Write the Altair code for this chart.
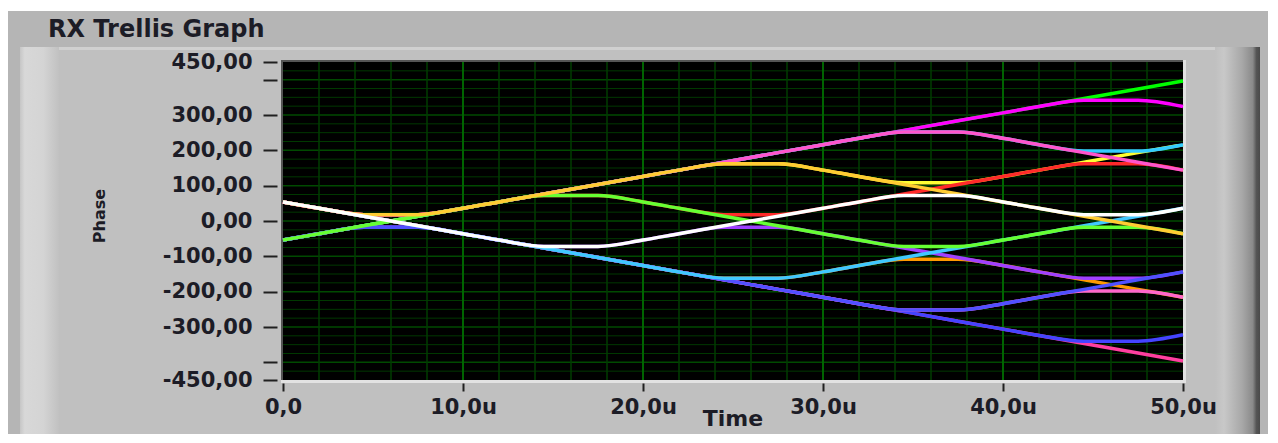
import altair as alt
import pandas as pd

# ---------------- data ----------------
TIME_US = [0, 2, 4.5, 7.5, 10, 12, 14.5, 17.5, 20, 22, 24.5, 27.5,
           30, 32, 34.5, 37.5, 40, 42, 44.5, 47.5, 50]

TRACE_NAMES = ["a01", "a02", "a03", "a04", "a05", "a06", "a07", "a08",
               "a09", "a10", "a11", "a12", "a13", "a14", "a15", "a16"]

PHASE_A01 = [54, 36, 13.5, -13.5, -36, -54, -76.5, -103.5, -126, -144, -166.5, -193.5, -216, -234, -256.5, -283.5, -306, -324, -346.5, -373.5, -396]
PHASE_A02 = [-54, -36, -13.5, 13.5, 36, 54, 76.5, 103.5, 126, 144, 166.5, 193.5, 216, 234, 256.5, 283.5, 306, 324, 346.5, 373.5, 396]
PHASE_A03 = [-54, -36, -18, -18, -36, -54, -76.5, -103.5, -126, -144, -166.5, -193.5, -216, -234, -256.5, -283.5, -306, -324, -340, -340, -322]
PHASE_A04 = [54, 36, 18, 18, 36, 54, 76.5, 103.5, 126, 144, 166.5, 193.5, 216, 234, 256.5, 283.5, 306, 324, 342, 342, 324]
PHASE_A05 = [54, 36, 13.5, -13.5, -36, -54, -76.5, -103.5, -126, -144, -162, -162, -144, -126, -108, -108, -126, -144, -166.5, -193.5, -216]
PHASE_A06 = [-54, -36, -13.5, 13.5, 36, 54, 76.5, 103.5, 126, 144, 162, 162, 144, 126, 108, 108, 126, 144, 166.5, 193.5, 216]
PHASE_A07 = [-54, -36, -18, -18, -36, -54, -72, -72, -54, -36, -18, -18, -36, -54, -76.5, -103.5, -126, -144, -162, -162, -144]
PHASE_A08 = [54, 36, 18, 18, 36, 54, 72, 72, 54, 36, 18, 18, 36, 54, 76.5, 103.5, 126, 144, 162, 162, 144]
PHASE_A09 = [54, 36, 13.5, -13.5, -36, -54, -76.5, -103.5, -126, -144, -166.5, -193.5, -216, -234, -252, -252, -234, -216, -198, -198, -216]
PHASE_A10 = [-54, -36, -13.5, 13.5, 36, 54, 76.5, 103.5, 126, 144, 166.5, 193.5, 216, 234, 252, 252, 234, 216, 198, 198, 216]
PHASE_A11 = [-54, -36, -18, -18, -36, -54, -76.5, -103.5, -126, -144, -166.5, -193.5, -216, -234, -252, -252, -234, -216, -193.5, -166.5, -144]
PHASE_A12 = [54, 36, 18, 18, 36, 54, 76.5, 103.5, 126, 144, 166.5, 193.5, 216, 234, 252, 252, 234, 216, 193.5, 166.5, 144]
PHASE_A13 = [54, 36, 13.5, -13.5, -36, -54, -76.5, -103.5, -126, -144, -162, -162, -144, -126, -103.5, -76.5, -54, -36, -13.5, 13.5, 36]
PHASE_A14 = [-54, -36, -13.5, 13.5, 36, 54, 72, 72, 54, 36, 13.5, -13.5, -36, -54, -72, -72, -54, -36, -18, -18, -36]
PHASE_A15 = [54, 36, 18, 18, 36, 54, 76.5, 103.5, 126, 144, 162, 162, 144, 126, 103.5, 76.5, 54, 36, 13.5, -13.5, -36]
PHASE_A16 = [54, 36, 13.5, -13.5, -36, -54, -72, -72, -54, -36, -13.5, 13.5, 36, 54, 72, 72, 54, 36, 18, 18, 36]

TRACE_COLORS = ["#ff3fa0", "#00ff00", "#4444ff", "#ff00ff", "#ff9900", "#ffff33",
                "#a040ff", "#ff2a2a", "#ff66cc", "#33ccff", "#5050ff", "#ff55cc",
                "#40c8ff", "#66ff33", "#ffcc33", "#ffffff"]

X_TICKS = [0, 10, 20, 30, 40, 50]
Y_TICKS = [450, 400, 300, 200, 100, 0, -100, -200, -300, -400, -450]
X_GRID_MINOR = [2, 4, 6, 8, 12, 14, 16, 18, 22, 24, 26, 28, 32, 34, 36, 38, 42, 44, 46, 48]
X_GRID_MAJOR = [10, 20, 30, 40]
Y_GRID_MINOR = [425, 375, 350, 325, 275, 250, 225, 175, 150, 125, 75, 50, 25,
                -25, -50, -75, -125, -150, -175, -225, -250, -275, -325, -350, -375, -425]
Y_GRID_MAJOR = [400, 300, 200, 100, 0, -100, -200, -300, -400]

TITLE = "RX Trellis Graph"
X_TITLE = "Time"
Y_TITLE = "Phase"

# ---------------- tables ----------------
all_series = [PHASE_A01, PHASE_A02, PHASE_A03, PHASE_A04, PHASE_A05, PHASE_A06,
              PHASE_A07, PHASE_A08, PHASE_A09, PHASE_A10, PHASE_A11, PHASE_A12,
              PHASE_A13, PHASE_A14, PHASE_A15, PHASE_A16]
rows = []
for name, vals in zip(TRACE_NAMES, all_series):
    for t, v in zip(TIME_US, vals):
        rows.append({"trace": name, "time": t, "phase": v})
traces_df = pd.DataFrame(rows)

FONT = "DejaVu Sans"
TXT = "#1c1c26"

xscale = alt.Scale(domain=[0, 50], nice=False, zero=False)
yscale = alt.Scale(domain=[-450, 450], nice=False, zero=False)

x_axis = alt.Axis(
    values=X_TICKS, title=None, grid=False, domain=False,
    ticks=True, tickSize=8, tickWidth=2, tickColor="#202020", offset=3,
    labelPadding=5, labelFont=FONT, labelFontSize=21, labelFontWeight="bold",
    labelColor=TXT, labelFlush=False, labelOverlap=False, labelBound=False,
    labelExpr="datum.value == 0 ? '0,0' : replace(format(datum.value, '.1f'), '.', ',') + 'u'",
    zindex=1,
)
y_axis = alt.Axis(
    values=Y_TICKS, title=None, grid=False, domain=False,
    ticks=True, tickSize=14, tickWidth=2, tickColor="#202020", offset=6,
    labelPadding=11, labelFont=FONT, labelFontSize=21, labelFontWeight="bold",
    labelColor=TXT, labelOverlap=False, labelFlush=False, labelBound=False,
    labelExpr="abs(datum.value) == 400 ? '' : (datum.value < 0 ? '-' : '') + replace(format(abs(datum.value), '.2f'), '.', ',')",
    zindex=1,
)

one = alt.Data(values=[{"k": 1}])


def panel_rect(color, x, x2, y, y2):
    return alt.Chart(one).mark_rect(color=color).encode(
        x=alt.value(x), x2=alt.value(x2), y=alt.value(y), y2=alt.value(y2))


left_grad = alt.LinearGradient(
    gradient="linear", x1=0, x2=1, y1=0, y2=0,
    stops=[alt.GradientStop(color="#c6c6c6", offset=0),
           alt.GradientStop(color="#d8d8d8", offset=0.12),
           alt.GradientStop(color="#d4d4d4", offset=0.6),
           alt.GradientStop(color="#c1c1c1", offset=1)])
right_grad = alt.LinearGradient(
    gradient="linear", x1=0, x2=1, y1=0, y2=0,
    stops=[alt.GradientStop(color="#c0c0c0", offset=0),
           alt.GradientStop(color="#c8c8c8", offset=0.2),
           alt.GradientStop(color="#a8a8a8", offset=0.6),
           alt.GradientStop(color="#8a8a8a", offset=0.84),
           alt.GradientStop(color="#555555", offset=0.92),
           alt.GradientStop(color="#4a4a4a", offset=1)])

outer = panel_rect("#b5b5b5", -280, 1000, -51, 420)
inner = panel_rect("#c0c0c0", -263, 976, -15, 420)
top_hl = panel_rect("#d0d0d0", -263, 935, -15, -12)
left_strip = alt.Chart(one).mark_rect(color=left_grad).encode(
    x=alt.value(-263), x2=alt.value(-224), y=alt.value(-15), y2=alt.value(420))
right_strip = alt.Chart(one).mark_rect(color=right_grad).encode(
    x=alt.value(932), x2=alt.value(977), y=alt.value(-15), y2=alt.value(420))
frame_light = panel_rect("#e2e2e2", -2, 903, -2, 321)
frame_dark = panel_rect("#555555", -2, 900, -2, 318)
plot_bg = panel_rect("#000000", 0, 900, 0, 318)


def vgrid(vals, color, w):
    return alt.Chart(pd.DataFrame({"time": vals})).mark_rule(color=color, strokeWidth=w).encode(
        x=alt.X("time:Q", scale=xscale, axis=x_axis))


def hgrid(vals, color, w):
    return alt.Chart(pd.DataFrame({"phase": vals})).mark_rule(color=color, strokeWidth=w).encode(
        y=alt.Y("phase:Q", scale=yscale, axis=y_axis))


grid_layers = [
    hgrid(Y_GRID_MINOR, "#003800", 1),
    hgrid(Y_GRID_MAJOR, "#004a00", 1.5),
    vgrid(X_GRID_MINOR, "#003c00", 1.5),
    vgrid(X_GRID_MAJOR, "#006400", 2),
]

traces = alt.Chart(traces_df).mark_line(strokeWidth=3.5, interpolate="monotone").encode(
    x=alt.X("time:Q", scale=xscale, axis=x_axis),
    y=alt.Y("phase:Q", scale=yscale, axis=y_axis),
    color=alt.Color("trace:N", scale=alt.Scale(domain=TRACE_NAMES, range=TRACE_COLORS), legend=None),
)


def text_layer(txt, x, y, size, angle=0, align="left", baseline="alphabetic", weight="bold"):
    return alt.Chart(alt.Data(values=[{"label": txt}])).mark_text(
        font=FONT, fontSize=size, fontWeight=weight, color=TXT,
        align=align, baseline=baseline, angle=angle).encode(
        text="label:N", x=alt.value(x), y=alt.value(y))


title = text_layer(TITLE, -235, -25, 24)
ytitle = text_layer(Y_TITLE, -183, 154, 16, angle=270, align="center", baseline="middle")
xtitle = text_layer(X_TITLE, 450, 364, 22, align="center")

chart = alt.layer(
    outer, inner, top_hl, left_strip, right_strip,
    frame_light, frame_dark, plot_bg,
    *grid_layers,
    traces,
    title, ytitle, xtitle,
).properties(
    width=900, height=318,
    autosize=alt.AutoSizeParams(type="none"),
    padding={"left": 275, "top": 54, "right": 85, "bottom": 54},
    background="#ffffff",
).configure_view(stroke=None)

chart.save("out.html", embed_options={"renderer": "svg", "actions": False})
